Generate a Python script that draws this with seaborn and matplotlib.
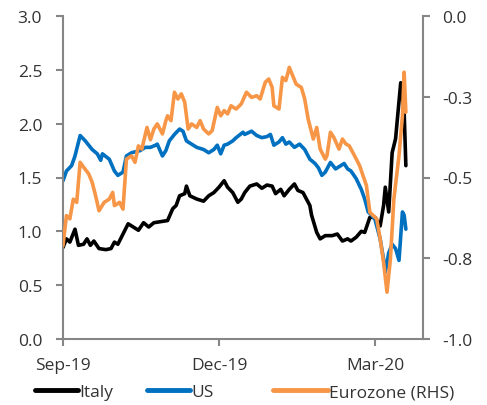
import matplotlib
matplotlib.use("Agg")
import matplotlib.pyplot as plt
import matplotlib.dates as mdates
from matplotlib.lines import Line2D
import pandas as pd
import seaborn as sns

# --- data -------------------------------------------------------------
italy_dates = [
    "2019-09-01", "2019-09-03", "2019-09-05", "2019-09-08", "2019-09-10", "2019-09-13",
    "2019-09-15", "2019-09-17", "2019-09-19", "2019-09-22", "2019-09-26", "2019-09-29",
    "2019-10-01", "2019-10-03", "2019-10-06", "2019-10-09", "2019-10-12", "2019-10-15",
    "2019-10-18", "2019-10-21", "2019-10-24", "2019-10-28", "2019-11-01", "2019-11-04",
    "2019-11-06", "2019-11-08", "2019-11-11", "2019-11-12", "2019-11-14", "2019-11-18",
    "2019-11-22", "2019-11-25", "2019-11-28", "2019-12-01", "2019-12-04", "2019-12-06",
    "2019-12-09", "2019-12-12", "2019-12-14", "2019-12-16", "2019-12-19", "2019-12-23",
    "2019-12-26", "2019-12-29", "2020-01-01", "2020-01-03", "2020-01-06", "2020-01-08",
    "2020-01-11", "2020-01-14", "2020-01-16", "2020-01-19", "2020-01-21", "2020-01-23",
    "2020-01-24", "2020-01-27", "2020-01-29", "2020-02-01", "2020-02-05", "2020-02-08",
    "2020-02-11", "2020-02-14", "2020-02-16", "2020-02-19", "2020-02-22", "2020-02-24",
    "2020-02-27", "2020-03-01", "2020-03-04", "2020-03-06", "2020-03-07", "2020-03-09",
    "2020-03-11", "2020-03-13", "2020-03-16", "2020-03-18", "2020-03-19",
]
italy_values = [
    0.85, 0.93, 0.90, 1.02, 0.87, 0.88,
    0.93, 0.87, 0.91, 0.84, 0.83, 0.84,
    0.90, 0.88, 0.975, 1.07, 1.04, 1.01,
    1.08, 1.04, 1.08, 1.09, 1.10, 1.21,
    1.24, 1.33, 1.35, 1.42, 1.33, 1.30,
    1.28, 1.33, 1.36, 1.41, 1.47, 1.41,
    1.36, 1.27, 1.30, 1.36, 1.42, 1.44,
    1.40, 1.43, 1.42, 1.35, 1.39, 1.33,
    1.39, 1.44, 1.38, 1.36, 1.30, 1.24,
    1.15, 0.99, 0.93, 0.96, 0.96, 0.975,
    0.91, 0.93, 0.91, 0.945, 1.00, 0.99,
    1.13, 1.13, 1.05, 1.24, 1.41, 1.18,
    1.73, 1.86, 2.38, 2.11, 1.61,
]

us_dates = [
    "2019-09-01", "2019-09-03", "2019-09-06", "2019-09-08", "2019-09-11", "2019-09-14",
    "2019-09-18", "2019-09-21", "2019-09-23", "2019-09-24", "2019-09-28", "2019-10-01",
    "2019-10-03", "2019-10-06", "2019-10-08", "2019-10-11", "2019-10-16", "2019-10-19",
    "2019-10-22", "2019-10-25", "2019-10-26", "2019-10-29", "2019-10-31", "2019-11-02",
    "2019-11-05", "2019-11-08", "2019-11-10", "2019-11-12", "2019-11-15", "2019-11-18",
    "2019-11-22", "2019-11-25", "2019-11-28", "2019-11-30", "2019-12-02", "2019-12-04",
    "2019-12-06", "2019-12-09", "2019-12-11", "2019-12-15", "2019-12-16", "2019-12-20",
    "2019-12-23", "2019-12-26", "2019-12-29", "2019-12-31", "2020-01-02", "2020-01-05",
    "2020-01-07", "2020-01-09", "2020-01-11", "2020-01-14", "2020-01-17", "2020-01-20",
    "2020-01-23", "2020-01-26", "2020-01-28", "2020-01-30", "2020-02-01", "2020-02-04",
    "2020-02-07", "2020-02-10", "2020-02-12", "2020-02-14", "2020-02-16", "2020-02-19",
    "2020-02-22", "2020-02-24", "2020-02-26", "2020-02-28", "2020-03-01", "2020-03-04",
    "2020-03-06", "2020-03-07", "2020-03-09", "2020-03-11", "2020-03-13", "2020-03-15",
    "2020-03-17", "2020-03-18", "2020-03-19",
]
us_values = [
    1.47, 1.56, 1.61, 1.70, 1.89, 1.84,
    1.76, 1.72, 1.66, 1.72, 1.67, 1.56,
    1.52, 1.55, 1.70, 1.73, 1.75, 1.78,
    1.78, 1.80, 1.81, 1.70, 1.75, 1.84,
    1.90, 1.95, 1.93, 1.84, 1.81, 1.78,
    1.76, 1.73, 1.76, 1.80, 1.72, 1.80,
    1.81, 1.84, 1.87, 1.92, 1.90, 1.93,
    1.89, 1.87, 1.88, 1.90, 1.80, 1.83,
    1.87, 1.81, 1.83, 1.78, 1.81, 1.76,
    1.67, 1.63, 1.59, 1.52, 1.55, 1.64,
    1.58, 1.61, 1.63, 1.58, 1.56, 1.49,
    1.39, 1.30, 1.18, 1.15, 1.11, 0.93,
    0.74, 0.62, 0.80, 0.88, 0.84, 0.73,
    1.18, 1.15, 1.02,
]

eurozone_dates = [
    "2019-09-01", "2019-09-03", "2019-09-05", "2019-09-07", "2019-09-09", "2019-09-11",
    "2019-09-13", "2019-09-16", "2019-09-18", "2019-09-20", "2019-09-22", "2019-09-25",
    "2019-09-28", "2019-09-30", "2019-10-01", "2019-10-04", "2019-10-06", "2019-10-08",
    "2019-10-11", "2019-10-13", "2019-10-15", "2019-10-17", "2019-10-20", "2019-10-22",
    "2019-10-24", "2019-10-26", "2019-10-29", "2019-10-31", "2019-11-01", "2019-11-03",
    "2019-11-05", "2019-11-07", "2019-11-09", "2019-11-11", "2019-11-13", "2019-11-15",
    "2019-11-18", "2019-11-20", "2019-11-22", "2019-11-25", "2019-11-27", "2019-11-30",
    "2019-12-02", "2019-12-04", "2019-12-06", "2019-12-08", "2019-12-11", "2019-12-14",
    "2019-12-17", "2019-12-20", "2019-12-23", "2019-12-25", "2019-12-28", "2019-12-30",
    "2020-01-01", "2020-01-02", "2020-01-05", "2020-01-07", "2020-01-09", "2020-01-10",
    "2020-01-11", "2020-01-13", "2020-01-15", "2020-01-18", "2020-01-20", "2020-01-22",
    "2020-01-24", "2020-01-25", "2020-01-27", "2020-01-29", "2020-02-01", "2020-02-02",
    "2020-02-04", "2020-02-06", "2020-02-09", "2020-02-11", "2020-02-13", "2020-02-15",
    "2020-02-18", "2020-02-21", "2020-02-23", "2020-02-25", "2020-02-27", "2020-02-29",
    "2020-03-02", "2020-03-04", "2020-03-06", "2020-03-08", "2020-03-10", "2020-03-12",
    "2020-03-15", "2020-03-17", "2020-03-18", "2020-03-19",
]
eurozone_values = [
    -0.711, -0.618, -0.628, -0.567, -0.577, -0.453,
    -0.468, -0.489, -0.515, -0.556, -0.603, -0.577,
    -0.567, -0.546, -0.587, -0.577, -0.598, -0.443,
    -0.433, -0.453, -0.402, -0.412, -0.345, -0.383,
    -0.350, -0.334, -0.365, -0.324, -0.309, -0.324,
    -0.236, -0.257, -0.241, -0.267, -0.350, -0.334,
    -0.345, -0.324, -0.350, -0.365, -0.355, -0.283,
    -0.309, -0.293, -0.303, -0.278, -0.288, -0.272,
    -0.236, -0.252, -0.247, -0.257, -0.205, -0.195,
    -0.221, -0.278, -0.288, -0.190, -0.200, -0.180,
    -0.159, -0.185, -0.211, -0.221, -0.257, -0.319,
    -0.360, -0.381, -0.345, -0.412, -0.443, -0.432,
    -0.360, -0.376, -0.412, -0.381, -0.396, -0.402,
    -0.432, -0.463, -0.494, -0.525, -0.608, -0.618,
    -0.628, -0.690, -0.763, -0.855, -0.752, -0.567,
    -0.432, -0.309, -0.174, -0.298,
]

series_names = ["Italy", "US", "Eurozone (RHS)"]
series_colors = ["#000000", "#0070C0", "#F79646"]

left_ticks = [0.0, 0.5, 1.0, 1.5, 2.0, 2.5, 3.0]
left_tick_labels = ["0.0", "0.5", "1.0", "1.5", "2.0", "2.5", "3.0"]
right_ticks = [0.0, -0.25, -0.5, -0.75, -1.0]
right_tick_labels = ["0.0", "-0.3", "-0.5", "-0.8", "-1.0"]
x_tick_dates = ["2019-09-01", "2019-12-01", "2020-03-01"]
x_tick_labels = ["Sep-19", "Dec-19", "Mar-20"]

# --- styling -----------------------------------------------------------
sns.set_theme(style="white")
plt.rcParams["font.family"] = ["Open Sans", "DejaVu Sans"]
plt.rcParams["axes.unicode_minus"] = False

W, H = 487, 406
spine_color = "#868686"
text_color = "#333333"
font_size = 12.5
line_w = 2.6

fig = plt.figure(figsize=(W / 100, H / 100), dpi=100)
ax = fig.add_axes([63 / W, 1 - 340 / H, (423 - 63) / W, (340 - 17) / H])
ax2 = ax.twinx()

sns.lineplot(x=pd.to_datetime(italy_dates), y=italy_values, ax=ax,
             color=series_colors[0], linewidth=line_w, legend=False)
sns.lineplot(x=pd.to_datetime(us_dates), y=us_values, ax=ax,
             color=series_colors[1], linewidth=line_w, legend=False)
sns.lineplot(x=pd.to_datetime(eurozone_dates), y=eurozone_values, ax=ax2,
             color=series_colors[2], linewidth=line_w, legend=False)

start = pd.Timestamp("2019-09-01")
ax.set_xlim(start, start + pd.Timedelta(days=210))
ax.set_ylim(0, 3)
ax2.set_ylim(-1, 0)

ax.set_xticks(pd.to_datetime(x_tick_dates))
ax.set_xticklabels(x_tick_labels)
ax.set_yticks(left_ticks)
ax.set_yticklabels(left_tick_labels)
ax2.set_yticks(right_ticks)
ax2.set_yticklabels(right_tick_labels)

for a in (ax, ax2):
    a.set_xlabel("")
    a.set_ylabel("")
    a.grid(False)
    for s in a.spines.values():
        s.set_color(spine_color)
        s.set_linewidth(1.5)
    a.spines["top"].set_visible(False)

ax.spines["right"].set_visible(False)
ax2.spines["left"].set_visible(False)
ax2.spines["bottom"].set_visible(False)

tick_kw = dict(direction="out", length=5, width=1.5, color=spine_color,
               labelsize=font_size, labelcolor=text_color)
ax.tick_params(axis="x", bottom=True, pad=8, **tick_kw)
ax.tick_params(axis="y", left=True, pad=10, **tick_kw)
ax2.tick_params(axis="y", right=True, left=False, pad=9, **tick_kw)

# legend entries laid out along the bottom
legend_x = [35, 147, 273]
handle_len = [2.45, 2.45, 3.15]
for name, color, x0, hl in zip(series_names, series_colors, legend_x, handle_len):
    handle = Line2D([], [], color=color, linewidth=3.5)
    fig.legend(handles=[handle], labels=[name], loc="center left",
               bbox_to_anchor=(x0 / W, 1 - 393 / H), frameon=False,
               borderpad=0, borderaxespad=0, handlelength=hl,
               handletextpad=0.1, fontsize=font_size, labelcolor=text_color)

fig.savefig("out.png", dpi=100)
